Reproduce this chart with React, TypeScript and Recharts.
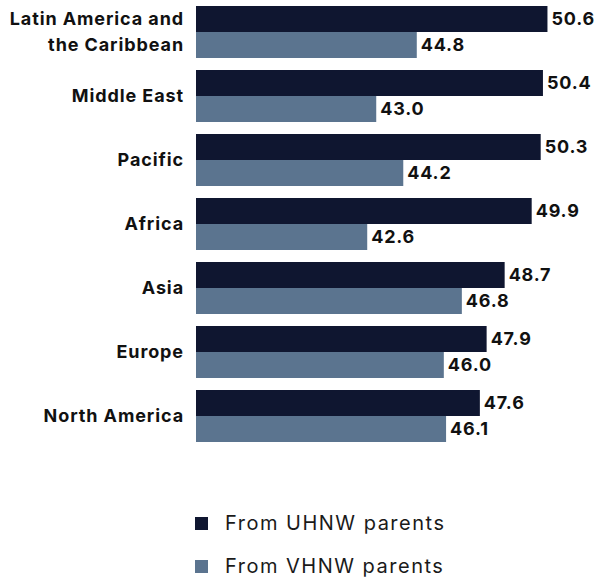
import React from 'react';
import { BarChart, Bar, XAxis, YAxis, LabelList, Legend } from 'recharts';

const regions = [
  'Latin America and the Caribbean',
  'Middle East',
  'Pacific',
  'Africa',
  'Asia',
  'Europe',
  'North America',
];
const uhnwValues = [50.6, 50.4, 50.3, 49.9, 48.7, 47.9, 47.6];
const vhnwValues = [44.8, 43.0, 44.2, 42.6, 46.8, 46.0, 46.1];

const seriesNames = ['From UHNW parents', 'From VHNW parents'];
const seriesColors = ['#0f1630', '#5b748f'];

const FONT = 'Inter, "Noto Sans", sans-serif';

const data = regions.map((region, i) => ({
  region,
  uhnw: uhnwValues[i],
  vhnw: vhnwValues[i],
}));

const RegionTick = (props: any) => {
  const { x, y, payload } = props;
  const label: string = payload.value;
  const lines = label === 'Latin America and the Caribbean' ? ['Latin America and', 'the Caribbean'] : [label];
  const lineHeight = 26;
  const startY = y - ((lines.length - 1) * lineHeight) / 2;
  const tx = x - 4;
  return (
    <text
      x={tx}
      y={startY}
      textAnchor="end"
      fontFamily={FONT}
      fontWeight={700}
      fontSize={18}
      letterSpacing={0.9}
      fill="#111111"
    >
      {lines.map((line, i) => (
        <tspan key={i} x={tx} y={startY + i * lineHeight} dy="0.36em">
          {line}
        </tspan>
      ))}
    </text>
  );
};

// legend box is 132px tall, keep everything inside it so the page doesn't scroll
const LegendContent = () => (
  <div style={{ height: 132, paddingTop: 63, paddingLeft: 195, boxSizing: 'border-box', fontFamily: FONT }}>
    {seriesNames.map((name, i) => (
      <div key={name} style={{ display: 'flex', alignItems: 'center', height: 24, marginTop: i === 0 ? 0 : 19 }}>
        <span style={{ width: 13, height: 13, background: seriesColors[i], marginRight: 17 }} />
        <span style={{ fontSize: 20, lineHeight: '24px', letterSpacing: 1.5, color: '#1a1a1a' }}>{name}</span>
      </div>
    ))}
  </div>
);

const fmt = (v: any) => Number(v).toFixed(1);

const labelStyle = {
  fill: '#111111',
  fontFamily: FONT,
  fontWeight: 700,
  fontSize: 18,
  letterSpacing: 0.8,
};

export default function App() {
  return (
    <div
      style={{
        position: 'absolute',
        top: 0,
        left: 0,
        width: 600,
        height: 580,
        overflow: 'hidden',
        background: '#fff',
      }}
    >
      <BarChart
        width={600}
        height={580}
        data={data}
        layout="vertical"
        margin={{ top: 0, right: 21, bottom: 0, left: 0 }}
        barGap={0}
      >
        <XAxis type="number" domain={[35, 52]} hide allowDataOverflow />
        <YAxis
          type="category"
          dataKey="region"
          width={196}
          axisLine={false}
          tickLine={false}
          tick={<RegionTick />}
          interval={0}
        />
        <Legend verticalAlign="bottom" height={132} content={<LegendContent />} />
        <Bar dataKey="uhnw" name={seriesNames[0]} fill={seriesColors[0]} barSize={26} isAnimationActive={false}>
          <LabelList dataKey="uhnw" position="right" offset={4} formatter={fmt} {...labelStyle} />
        </Bar>
        <Bar dataKey="vhnw" name={seriesNames[1]} fill={seriesColors[1]} barSize={26} isAnimationActive={false}>
          <LabelList dataKey="vhnw" position="right" offset={4} formatter={fmt} {...labelStyle} />
        </Bar>
      </BarChart>
    </div>
  );
}
